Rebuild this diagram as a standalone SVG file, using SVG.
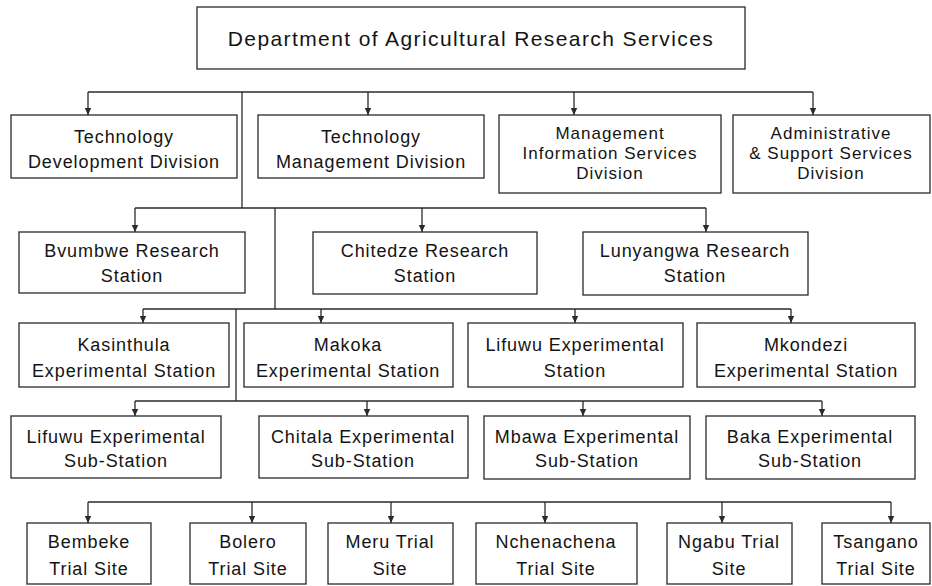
<svg xmlns="http://www.w3.org/2000/svg" width="932" height="586" viewBox="0 0 932 586">
  <style>
    .box { fill: #ffffff; stroke: #2a2a2a; stroke-width: 1.3; }
    .lbl { font-family: "Liberation Sans", Arial, sans-serif; font-size: 18px; fill: #141414; text-anchor: middle; letter-spacing: 0.9px; }
    .lbl3 { font-family: "Liberation Sans", Arial, sans-serif; font-size: 17px; fill: #141414; text-anchor: middle; letter-spacing: 1px; }
    .title { font-family: "Liberation Sans", Arial, sans-serif; font-size: 21px; fill: #141414; text-anchor: middle; letter-spacing: 1.4px; }
    .wire { fill: none; stroke: #2a2a2a; stroke-width: 1.3; }
    .arrow { fill: none; stroke: #2a2a2a; stroke-width: 1.3; marker-end: url(#tip); }
  </style>
  <defs>
    <marker id="tip" markerWidth="8" markerHeight="8" refX="7" refY="4" orient="auto" markerUnits="userSpaceOnUse">
      <path d="M0,0.8 L7,4 L0,7.2 Z" fill="#2a2a2a"/>
    </marker>
  </defs>
  <rect width="932" height="586" fill="#ffffff"/>

  <g id="connectors">
    <!-- divisions bus -->
    <path class="wire" d="M88,92 H813"/>
    <path class="arrow" d="M88,92 V115"/>
    <path class="arrow" d="M368,92 V115"/>
    <path class="arrow" d="M574,92 V115"/>
    <path class="arrow" d="M813,92 V115"/>
    <path class="wire" d="M242,92 V208"/>
    <!-- research stations bus -->
    <path class="wire" d="M135,208 H706"/>
    <path class="arrow" d="M135,208 V232"/>
    <path class="arrow" d="M422,208 V232"/>
    <path class="arrow" d="M706,208 V232"/>
    <path class="wire" d="M275,208 V309"/>
    <!-- experimental stations bus -->
    <path class="wire" d="M143,309 H791"/>
    <path class="arrow" d="M143,309 V323"/>
    <path class="arrow" d="M321,309 V323"/>
    <path class="arrow" d="M575,309 V323"/>
    <path class="arrow" d="M791,309 V323"/>
    <path class="wire" d="M236,309 V401"/>
    <!-- sub-stations bus -->
    <path class="wire" d="M135,401 H822"/>
    <path class="arrow" d="M135,401 V416"/>
    <path class="arrow" d="M367,401 V416"/>
    <path class="arrow" d="M583,401 V416"/>
    <path class="arrow" d="M822,401 V416"/>
    <!-- trial sites bus -->
    <path class="wire" d="M88,502 H891"/>
    <path class="arrow" d="M88,502 V523"/>
    <path class="arrow" d="M252,502 V523"/>
    <path class="arrow" d="M391,502 V523"/>
    <path class="arrow" d="M545,502 V523"/>
    <path class="arrow" d="M722,502 V523"/>
    <path class="arrow" d="M891,502 V523"/>
  </g>

  <g id="dars">
    <rect class="box" x="197" y="7" width="548" height="62"/>
    <text class="title" x="471" y="46">Department of Agricultural Research Services</text>
  </g>

  <g id="tech-dev">
    <rect class="box" x="11" y="115" width="226" height="63"/>
    <text class="lbl" x="124" y="143">Technology</text>
    <text class="lbl" x="124" y="168">Development Division</text>
  </g>
  <g id="tech-mgmt">
    <rect class="box" x="258" y="115" width="226" height="63"/>
    <text class="lbl" x="371" y="143">Technology</text>
    <text class="lbl" x="371" y="168">Management Division</text>
  </g>
  <g id="mis">
    <rect class="box" x="499" y="115" width="222" height="78"/>
    <text class="lbl3" x="610" y="139">Management</text>
    <text class="lbl3" x="610" y="159">Information Services</text>
    <text class="lbl3" x="610" y="179">Division</text>
  </g>
  <g id="admin">
    <rect class="box" x="733" y="115" width="197" height="78"/>
    <text class="lbl3" x="831" y="139">Administrative</text>
    <text class="lbl3" x="831" y="159">&amp; Support Services</text>
    <text class="lbl3" x="831" y="179">Division</text>
  </g>

  <g id="bvumbwe">
    <rect class="box" x="19" y="232" width="226" height="61"/>
    <text class="lbl" x="132" y="257">Bvumbwe Research</text>
    <text class="lbl" x="132" y="282">Station</text>
  </g>
  <g id="chitedze">
    <rect class="box" x="313" y="232" width="224" height="62"/>
    <text class="lbl" x="425" y="257">Chitedze Research</text>
    <text class="lbl" x="425" y="282">Station</text>
  </g>
  <g id="lunyangwa">
    <rect class="box" x="583" y="232" width="225" height="63"/>
    <text class="lbl" x="695" y="257">Lunyangwa  Research</text>
    <text class="lbl" x="695" y="282">Station</text>
  </g>

  <g id="kasinthula">
    <rect class="box" x="19" y="323" width="210" height="64"/>
    <text class="lbl" x="124" y="351">Kasinthula</text>
    <text class="lbl" x="124" y="377">Experimental Station</text>
  </g>
  <g id="makoka">
    <rect class="box" x="244" y="323" width="209" height="64"/>
    <text class="lbl" x="348" y="351">Makoka</text>
    <text class="lbl" x="348" y="377">Experimental Station</text>
  </g>
  <g id="lifuwu-station">
    <rect class="box" x="468" y="323" width="215" height="64"/>
    <text class="lbl" x="575" y="351">Lifuwu Experimental</text>
    <text class="lbl" x="575" y="377">Station</text>
  </g>
  <g id="mkondezi">
    <rect class="box" x="697" y="323" width="218" height="64"/>
    <text class="lbl" x="806" y="351">Mkondezi</text>
    <text class="lbl" x="806" y="377">Experimental  Station</text>
  </g>

  <g id="lifuwu-sub">
    <rect class="box" x="11" y="416" width="210" height="62"/>
    <text class="lbl" x="116" y="443">Lifuwu Experimental</text>
    <text class="lbl" x="116" y="467">Sub-Station</text>
  </g>
  <g id="chitala">
    <rect class="box" x="259" y="416" width="209" height="62"/>
    <text class="lbl" x="363" y="443">Chitala Experimental</text>
    <text class="lbl" x="363" y="467">Sub-Station</text>
  </g>
  <g id="mbawa">
    <rect class="box" x="484" y="416" width="206" height="63"/>
    <text class="lbl" x="587" y="443">Mbawa Experimental</text>
    <text class="lbl" x="587" y="467">Sub-Station</text>
  </g>
  <g id="baka">
    <rect class="box" x="706" y="416" width="209" height="63"/>
    <text class="lbl" x="810" y="443">Baka Experimental</text>
    <text class="lbl" x="810" y="467">Sub-Station</text>
  </g>

  <g id="bembeke">
    <rect class="box" x="27" y="523" width="124" height="61"/>
    <text class="lbl" x="89" y="548">Bembeke</text>
    <text class="lbl" x="89" y="575">Trial Site</text>
  </g>
  <g id="bolero">
    <rect class="box" x="190" y="523" width="116" height="61"/>
    <text class="lbl" x="248" y="548">Bolero</text>
    <text class="lbl" x="248" y="575">Trial Site</text>
  </g>
  <g id="meru">
    <rect class="box" x="328" y="523" width="125" height="61"/>
    <text class="lbl" x="390" y="548">Meru Trial</text>
    <text class="lbl" x="390" y="575">Site</text>
  </g>
  <g id="nchenachena">
    <rect class="box" x="476" y="523" width="161" height="61"/>
    <text class="lbl" x="556" y="548">Nchenachena</text>
    <text class="lbl" x="556" y="575">Trial Site</text>
  </g>
  <g id="ngabu">
    <rect class="box" x="667" y="523" width="125" height="61"/>
    <text class="lbl" x="729" y="548">Ngabu Trial</text>
    <text class="lbl" x="729" y="575">Site</text>
  </g>
  <g id="tsangano">
    <rect class="box" x="822" y="523" width="108" height="61"/>
    <text class="lbl" x="876" y="548">Tsangano</text>
    <text class="lbl" x="876" y="575">Trial Site</text>
  </g>
</svg>
